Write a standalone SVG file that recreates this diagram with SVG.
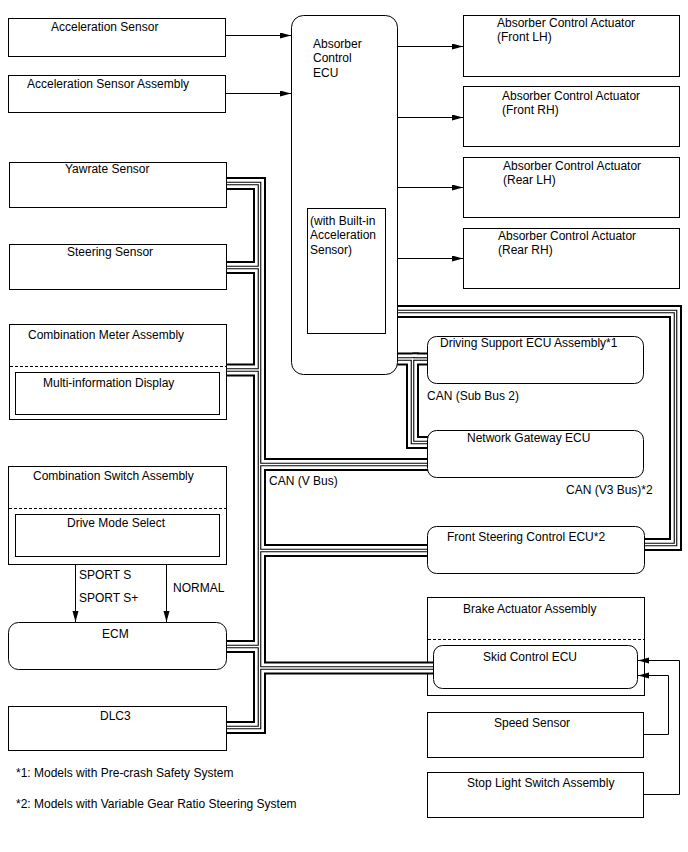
<svg xmlns="http://www.w3.org/2000/svg" xmlns:xlink="http://www.w3.org/1999/xlink" width="688" height="852" viewBox="0 0 688 852">
<style>
text{font-family:"Liberation Sans",Arial,sans-serif;font-size:12px;fill:#000}
.box{fill:#fff;stroke:#000;stroke-width:1}
.nofill{fill:none;stroke:#000;stroke-width:1}
.dash{fill:none;stroke:#000;stroke-width:1;stroke-dasharray:3,2}
.wire{fill:none;stroke:#000;stroke-width:1}
.b1{fill:none;stroke:#000;stroke-width:13;stroke-linejoin:miter}
.b2{fill:none;stroke:#fff;stroke-width:9;stroke-linejoin:miter}
.b3{fill:none;stroke:#000;stroke-width:3.6;stroke-linejoin:miter}
.b4{fill:none;stroke:#fff;stroke-width:1.4;stroke-linejoin:miter}
</style>
<defs>
<marker id="arr" markerUnits="userSpaceOnUse" markerWidth="12" markerHeight="8" refX="11" refY="3" orient="auto">
<path d="M0,0 L11,3 L0,6 z" fill="#000"/>
</marker>
<g id="busPaths">
<path d="M227,183.5 H259.5 V727.5 H227"/>
<path d="M227,267.5 H259.5"/>
<path d="M227,370 H259.5"/>
<path d="M259.5,464.5 H428"/>
<path d="M259.5,550.5 H428"/>
<path d="M227,646.5 H259.5"/>
<path d="M259.5,668 H434"/>
<path d="M397,311.5 H675.5 V544.5 H644"/>
<path d="M397,359 H412.5 V442.5 H428"/>
<path d="M412.5,359 H428"/>
</g>
</defs>
<rect width="688" height="852" fill="#fff"/>

<g id="brake-actuator-assembly">
<rect class="box" x="427.5" y="597.5" width="217" height="98"/>
<line class="dash" x1="428" y1="639.5" x2="644" y2="639.5"/>
<text x="463" y="613">Brake Actuator Assembly</text>
</g>

<g id="connectors">
<use xlink:href="#busPaths" class="b1"/>
<use xlink:href="#busPaths" class="b2"/>
<use xlink:href="#busPaths" class="b3"/>
<use xlink:href="#busPaths" class="b4"/>
<line class="wire" x1="225" y1="35.5" x2="291" y2="35.5" marker-end="url(#arr)"/>
<line class="wire" x1="225" y1="93.5" x2="291" y2="93.5" marker-end="url(#arr)"/>
<line class="wire" x1="397" y1="46.5" x2="463" y2="46.5" marker-end="url(#arr)"/>
<line class="wire" x1="397" y1="117.5" x2="463" y2="117.5" marker-end="url(#arr)"/>
<line class="wire" x1="397" y1="187.5" x2="463" y2="187.5" marker-end="url(#arr)"/>
<line class="wire" x1="397" y1="258.5" x2="463" y2="258.5" marker-end="url(#arr)"/>
<line class="wire" x1="75.5" y1="564" x2="75.5" y2="622" marker-end="url(#arr)"/>
<line class="wire" x1="166.5" y1="564" x2="166.5" y2="622" marker-end="url(#arr)"/>
<polyline class="wire" points="644,734.5 668.5,734.5 668.5,675.5 638,675.5" marker-end="url(#arr)"/>
<polyline class="wire" points="644,794.5 679.5,794.5 679.5,660.5 638,660.5" marker-end="url(#arr)"/>
<text x="79" y="579">SPORT S</text>
<text x="79" y="602">SPORT S+</text>
<text x="173" y="592">NORMAL</text>
<text x="427" y="400">CAN (Sub Bus 2)</text>
<text x="269" y="485">CAN (V Bus)</text>
<text x="566" y="494">CAN (V3 Bus)*2</text>
</g>

<g id="acceleration-sensor">
<rect class="box" x="8.5" y="18.5" width="217" height="38"/>
<text x="51" y="31">Acceleration Sensor</text>
</g>
<g id="acceleration-sensor-assembly">
<rect class="box" x="8.5" y="75.5" width="217" height="37"/>
<text x="27" y="88">Acceleration Sensor Assembly</text>
</g>
<g id="yawrate-sensor">
<rect class="box" x="9.5" y="162.5" width="217" height="45"/>
<text x="65" y="173">Yawrate Sensor</text>
</g>
<g id="steering-sensor">
<rect class="box" x="9.5" y="244.5" width="217" height="45"/>
<text x="67" y="256">Steering Sensor</text>
</g>
<g id="combination-meter-assembly">
<rect class="box" x="9.5" y="324.5" width="217" height="95"/>
<line class="dash" x1="10" y1="366.5" x2="226" y2="366.5"/>
<text x="28" y="339">Combination Meter Assembly</text>
<g id="multi-information-display">
<rect class="box" x="15.5" y="372.5" width="204" height="42"/>
<text x="43" y="387">Multi-information Display</text>
</g>
</g>
<g id="combination-switch-assembly">
<rect class="box" x="8.5" y="466.5" width="218" height="98"/>
<line class="dash" x1="9" y1="508.5" x2="226" y2="508.5"/>
<text x="33" y="480">Combination Switch Assembly</text>
<g id="drive-mode-select">
<rect class="box" x="15.5" y="514.5" width="204" height="42"/>
<text x="67" y="527">Drive Mode Select</text>
</g>
</g>
<g id="ecm">
<rect class="box" x="8.5" y="622.5" width="218" height="47" rx="10"/>
<text x="102" y="638">ECM</text>
</g>
<g id="dlc3">
<rect class="box" x="8.5" y="706.5" width="218" height="44"/>
<text x="100" y="720">DLC3</text>
</g>

<g id="absorber-control-ecu">
<rect class="box" x="291.5" y="15.5" width="106" height="359" rx="12"/>
<text x="313" y="48">Absorber</text>
<text x="313" y="62">Control</text>
<text x="313" y="77">ECU</text>
<rect class="nofill" x="307.5" y="208.5" width="78" height="125"/>
<text x="310" y="225">(with Built-in</text>
<text x="310" y="239">Acceleration</text>
<text x="310" y="254">Sensor)</text>
</g>

<g id="actuator-front-lh">
<rect class="box" x="463.5" y="15.5" width="216" height="61"/>
<text x="497" y="27">Absorber Control Actuator</text>
<text x="497" y="41">(Front LH)</text>
</g>
<g id="actuator-front-rh">
<rect class="box" x="463.5" y="86.5" width="216" height="60"/>
<text x="502" y="100">Absorber Control Actuator</text>
<text x="502" y="114">(Front RH)</text>
</g>
<g id="actuator-rear-lh">
<rect class="box" x="463.5" y="157.5" width="216" height="60"/>
<text x="503" y="170">Absorber Control Actuator</text>
<text x="503" y="184">(Rear LH)</text>
</g>
<g id="actuator-rear-rh">
<rect class="box" x="463.5" y="228.5" width="216" height="60"/>
<text x="498" y="240">Absorber Control Actuator</text>
<text x="498" y="254">(Rear RH)</text>
</g>

<g id="driving-support-ecu">
<rect class="box" x="427.5" y="336.5" width="216" height="47" rx="9"/>
<text x="440" y="347">Driving Support ECU Assembly*1</text>
</g>
<g id="network-gateway-ecu">
<rect class="box" x="427.5" y="430.5" width="216" height="47" rx="9"/>
<text x="467" y="442">Network Gateway ECU</text>
</g>
<g id="front-steering-control-ecu">
<rect class="box" x="427.5" y="526.5" width="217" height="47" rx="9"/>
<text x="447" y="541">Front Steering Control ECU*2</text>
</g>
<g id="skid-control-ecu">
<rect class="box" x="433.5" y="645.5" width="204" height="43" rx="9"/>
<text x="483" y="661">Skid Control ECU</text>
</g>
<g id="speed-sensor">
<rect class="box" x="427.5" y="712.5" width="216" height="45"/>
<text x="494" y="727">Speed Sensor</text>
</g>
<g id="stop-light-switch-assembly">
<rect class="box" x="427.5" y="772.5" width="216" height="45"/>
<text x="467" y="787">Stop Light Switch Assembly</text>
</g>

<g id="footnotes">
<text x="16" y="777">*1: Models with Pre-crash Safety System</text>
<text x="16" y="808">*2: Models with Variable Gear Ratio Steering System</text>
</g>
</svg>
